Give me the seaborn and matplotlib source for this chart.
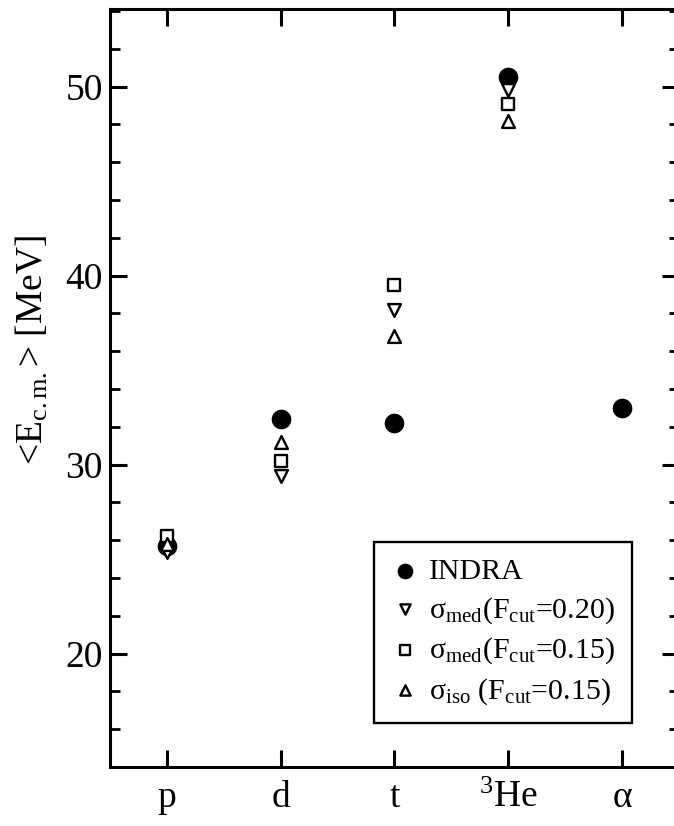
"""Mean c.m. energy of light particles: INDRA data vs. model variants."""

import numpy as np
import pandas as pd
import matplotlib
matplotlib.use("Agg")
import matplotlib.pyplot as plt
import seaborn as sns
from matplotlib.ticker import MultipleLocator

particles = ["p", "d", "t", r"$^{3}$He", "α"]
x_pos = [1, 2, 3, 4, 5]

indra = [25.7, 32.4, 32.2, 50.5, 33.0]
med_020 = [25.4, 29.4, 38.2, 49.8]
med_015 = [26.2, 30.2, 39.5, 49.1]
iso_015 = [25.8, 31.2, 36.8, 48.2]

series_labels = [
    "INDRA",
    "σ$_{\\rm med}$(F$_{\\rm cut}$=0.20)",
    "σ$_{\\rm med}$(F$_{\\rm cut}$=0.15)",
    "σ$_{\\rm iso}$ (F$_{\\rm cut}$=0.15)",
]

sns.set_style("ticks", {"axes.edgecolor": "black", "text.color": "black",
                        "xtick.color": "black", "ytick.color": "black",
                        "axes.labelcolor": "black"})
plt.rcParams["font.family"] = ["Liberation Serif", "DejaVu Serif"]
plt.rcParams["mathtext.fontset"] = "custom"
plt.rcParams["mathtext.rm"] = "Liberation Serif"
plt.rcParams["mathtext.it"] = "Liberation Serif:italic"

fig = plt.figure(figsize=(6.74, 8.26), dpi=100)
ax = fig.add_axes([0.163, 0.0714, 0.8444, 0.9177])

# filled circles first, open markers on top with white faces
sns.scatterplot(x=x_pos, y=indra, marker="o", s=200, color="black",
                edgecolor="black", linewidth=0, ax=ax, label=series_labels[0], zorder=3)
open_sets = [(med_020, "v", 85, series_labels[1]),
             (med_015, "s", 70, series_labels[2]),
             (iso_015, "^", 85, series_labels[3])]
for values, mk, size, lab in open_sets:
    sns.scatterplot(x=x_pos[:len(values)], y=values, marker=mk, s=size,
                    facecolor="white", edgecolor="black", linewidth=1.7,
                    ax=ax, label=lab, zorder=4)

ax.set_xlim(0.5, 5.5)
ax.set_ylim(14, 54.1)
ax.set_xticks(x_pos)
ax.set_xticklabels(particles)
ax.set_yticks([20, 30, 40, 50])
ax.yaxis.set_minor_locator(MultipleLocator(2))

for side in ["left", "right", "top", "bottom"]:
    ax.spines[side].set_visible(True)
    ax.spines[side].set_linewidth(2.2)

ax.tick_params(axis="both", which="major", direction="in", length=12, width=2.2,
               top=True, right=True, labelsize=27)
ax.tick_params(axis="both", which="minor", direction="in", length=7, width=2,
               right=True)
ax.tick_params(axis="x", pad=10)
ax.tick_params(axis="y", pad=5)

ax.set_xlabel("")
ax.set_ylabel("<E$_{\\rm c.m.}$> [MeV]", fontsize=27)
ax.yaxis.set_label_coords(-0.105, 0.55)

leg = ax.legend(loc="lower right", bbox_to_anchor=(0.917, 0.058), fontsize=21.5,
                frameon=True, fancybox=False, edgecolor="black", framealpha=1,
                handletextpad=0.3, labelspacing=0.33, borderpad=0.55,
                borderaxespad=0, handlelength=1.0, markerscale=0.8)
leg.get_frame().set_linewidth(1.7)

plt.savefig("out.png", dpi=100)
plt.close()
